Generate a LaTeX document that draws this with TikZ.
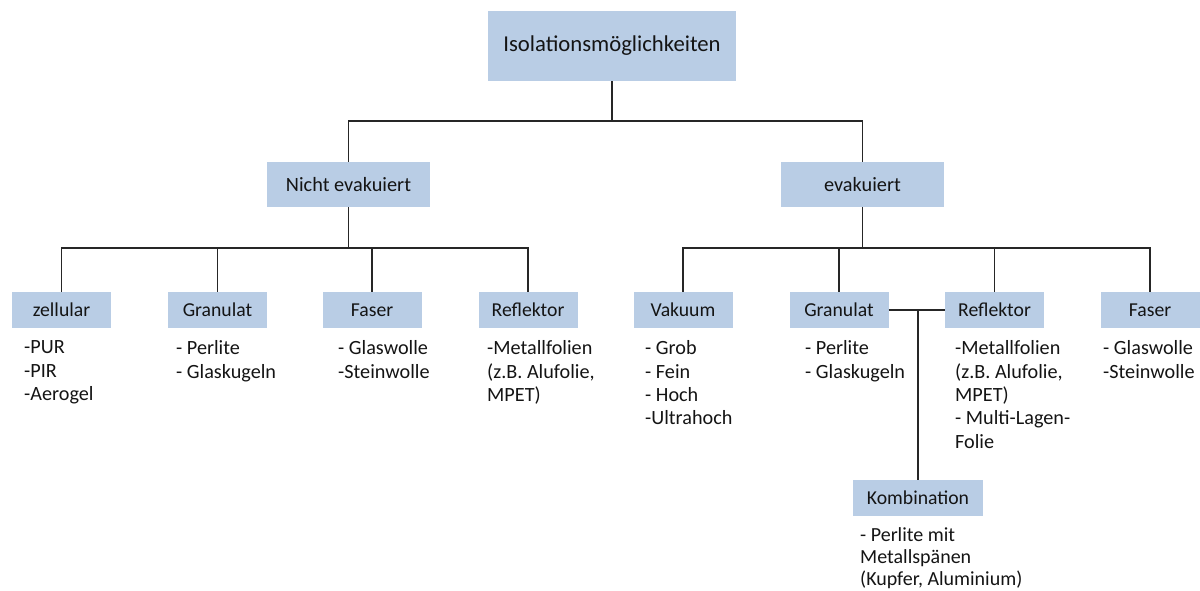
\documentclass[tikz,border=0pt]{standalone}
\usepackage{fontspec}
\setmainfont{Carlito}
\definecolor{boxblue}{RGB}{185,205,229}
\definecolor{txt}{RGB}{20,20,20}
\begin{document}
\begin{tikzpicture}[x=1pt,y=-1pt,
  topbox/.style={fill=boxblue,draw=none,inner sep=0pt,minimum width=248pt,minimum height=70pt,font=\fontsize{22.7}{27}\selectfont,text=txt},
  midbox/.style={fill=boxblue,draw=none,inner sep=0pt,minimum width=163pt,minimum height=45pt,font=\fontsize{20.3}{24}\selectfont,text=txt},
  leafbox/.style={fill=boxblue,draw=none,inner sep=0pt,minimum width=99pt,minimum height=36pt,font=\fontsize{19.7}{23}\selectfont,text=txt},
  listtext/.style={anchor=north west,inner sep=0pt,align=left,font=\fontsize{20.2}{23.4}\selectfont,text=txt},
  conn/.style={draw=black!85,line width=1.5pt}]
\useasboundingbox (0,0) rectangle (1200,591);

\node[topbox] (top) at (612,46) {Isolationsmöglichkeiten};
\node[midbox] (ne) at (348.5,184.5) {Nicht evakuiert};
\node[midbox] (ev) at (862.5,184.5) {evakuiert};

\node[leafbox] (z)   at (61.5,310)  {zellular};
\node[leafbox] (gl)  at (217.5,310) {Granulat};
\node[leafbox] (fl)  at (372,310)   {Faser};
\node[leafbox] (rl)  at (528,310)   {Reflektor};
\node[leafbox] (va)  at (683,310)   {Vakuum};
\node[leafbox] (gr)  at (839,310)   {Granulat};
\node[leafbox] (rr)  at (994.5,310) {Reflektor};
\node[leafbox] (fr)  at (1150,310)  {Faser};
\node[leafbox,minimum width=130pt] (kb) at (918,498) {Kombination};

\node[listtext] (lz)  at (24,340.5)  {-PUR\\-PIR\\-Aerogel};
\node[listtext] (lgl) at (176,340.5) {- Perlite\\- Glaskugeln};
\node[listtext] (lfl) at (338,340.5) {- Glaswolle\\-Steinwolle};
\node[listtext] (lrl) at (487,340.5) {-Metallfolien\\(z.B. Alufolie,\\MPET)};
\node[listtext] (lva) at (645,340.5) {- Grob\\- Fein\\- Hoch\\-Ultrahoch};
\node[listtext] (lgr) at (805,340.5) {- Perlite\\- Glaskugeln};
\node[listtext] (lrr) at (955,340.5) {-Metallfolien\\(z.B. Alufolie,\\MPET)\\- Multi-Lagen-\\Folie};
\node[listtext] (lfr) at (1103,340.5) {- Glaswolle\\-Steinwolle};
\node[listtext,font=\fontsize{20}{22.2}\selectfont] (lkb) at (860,527) {- Perlite mit\\Metallspänen\\(Kupfer, Aluminium)};

\coordinate (b1) at (612,121);
\coordinate (b2) at (348.5,248);
\coordinate (b3) at (862.5,248);

\draw[conn] (top.south) -- (b1);
\draw[conn] (ne.north) |- (b1);
\draw[conn] (ev.north) |- (b1);

\draw[conn] (ne.south) -- (b2);
\draw[conn] (z.north) |- (b2);
\draw[conn] (gl.north) |- (b2);
\draw[conn] (fl.north) |- (b2);
\draw[conn] (rl.north) |- (b2);

\draw[conn] (ev.south) -- (b3);
\draw[conn] (va.north) |- (b3);
\draw[conn] (gr.north) |- (b3);
\draw[conn] (rr.north) |- (b3);
\draw[conn] (fr.north) |- (b3);

\draw[conn] (gr.east) -- (rr.west);
\draw[conn] (kb.north) -- (kb.north |- gr.east);
\end{tikzpicture}
\end{document}
